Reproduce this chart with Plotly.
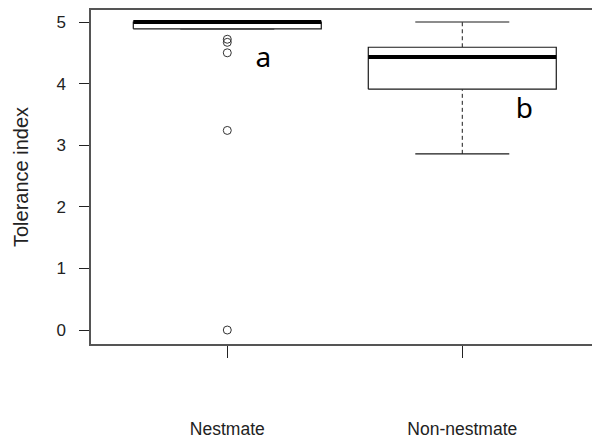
import plotly.graph_objects as go

# Groups and their five-number summaries
groups = ["Nestmate", "Non-nestmate"]
positions = [1, 2]
lower_whisker = [4.89, 2.86]
q1 = [4.89, 3.91]
median = [5.0, 4.43]
q3 = [5.0, 4.59]
upper_whisker = [5.0, 5.0]

# Outlying observations (Nestmate only)
outlier_group = [1, 1, 1, 1, 1]
outlier_values = [4.72, 4.67, 4.50, 3.24, 0.0]

# Significance letters
letter_text = ["a", "b"]
letter_x = [1.153, 2.264]
letter_y = [4.38, 3.55]

y_ticks = [0, 1, 2, 3, 4, 5]

BOX_HALF = 0.4
CAP_HALF = 0.2
INK = "#1a1a1a"

fig = go.Figure()

for pos, lw, a, m, b, uw in zip(positions, lower_whisker, q1, median, q3, upper_whisker):
    # dashed whiskers
    for y0, y1 in ((b, uw), (lw, a)):
        if y1 > y0:
            fig.add_trace(go.Scatter(x=[pos, pos], y=[y0, y1], mode="lines",
                                     line=dict(color=INK, width=1, dash="4px,3px"),
                                     hoverinfo="skip", showlegend=False))
    # whisker caps
    for yv in (lw, uw):
        fig.add_trace(go.Scatter(x=[pos - CAP_HALF, pos + CAP_HALF], y=[yv, yv], mode="lines",
                                 line=dict(color=INK, width=1.2),
                                 hoverinfo="skip", showlegend=False))
    # box outline
    fig.add_trace(go.Scatter(
        x=[pos - BOX_HALF, pos + BOX_HALF, pos + BOX_HALF, pos - BOX_HALF, pos - BOX_HALF],
        y=[a, a, b, b, a], mode="lines", fill="toself", fillcolor="white",
        line=dict(color=INK, width=1.2), hoverinfo="skip", showlegend=False))
    # median
    fig.add_trace(go.Scatter(x=[pos - BOX_HALF, pos + BOX_HALF], y=[m, m], mode="lines",
                             line=dict(color="black", width=4),
                             hoverinfo="skip", showlegend=False))

fig.add_trace(go.Scatter(x=outlier_group, y=outlier_values, mode="markers",
                         marker=dict(symbol="circle-open", size=8, color="#333",
                                     line=dict(width=1)),
                         hoverinfo="skip", showlegend=False))

fig.add_trace(go.Scatter(x=letter_x, y=letter_y, mode="text", text=letter_text,
                         textfont=dict(family="Noto Sans", size=28, color="black"),
                         hoverinfo="skip", showlegend=False))

AXIS = "#555555"
fig.update_layout(
    width=592, height=443,
    margin=dict(l=91, r=0, t=10, b=99),
    plot_bgcolor="white", paper_bgcolor="white",
    font=dict(family="Liberation Sans", color="#222"),
    xaxis=dict(range=[0.42, 2.552], tickvals=positions, ticktext=groups,
               showgrid=False, zeroline=False, showline=True, linecolor=AXIS,
               linewidth=1.5, mirror=True, ticks="outside", ticklen=12,
               tickcolor="#222", tickwidth=1, tickfont=dict(size=17.5),
               ticklabelstandoff=56, automargin=False),
    yaxis=dict(range=[-0.227, 5.195], tickvals=y_ticks, showgrid=False,
               zeroline=False, showline=True, linecolor=AXIS, linewidth=1.5,
               ticks="outside", ticklen=10, tickcolor="#222", tickwidth=1,
               tickfont=dict(size=17), ticklabelstandoff=10, automargin=False,
               title=dict(text="Tolerance index", font=dict(size=20),
                          standoff=22)),
)

fig.write_html("out.html")
